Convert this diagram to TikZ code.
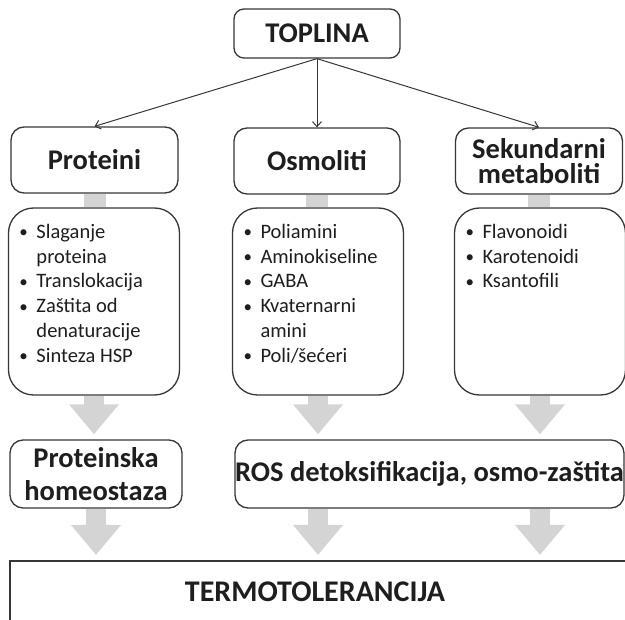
\documentclass[tikz,border=0pt]{standalone}
\usepackage{fontspec}
\setmainfont{Carlito}
\usepackage{xcolor}
\usetikzlibrary{arrows.meta,positioning,backgrounds}
\definecolor{OkvirSivi}{RGB}{55,55,55}
\definecolor{StrelicaSiva}{RGB}{212,212,212}
\definecolor{TekstCrni}{RGB}{30,30,30}
\newcommand\stavka[1]{\par\hangindent=28pt\hangafter=1\noindent
  \makebox[28pt][l]{\hspace{11pt}\raisebox{0.5pt}{\fontsize{17}{17}\selectfont•}}#1}
\newcommand\popis[1]{\parbox[c][187pt][t]{171pt}{\fontsize{20.5}{24.8}\selectfont
  \rightskip=0pt plus 1fil\vspace*{16pt}#1\par}}

\begin{document}
\begin{tikzpicture}[x=1pt, y=-1pt]
  \tikzset{okvir/.style={draw=OkvirSivi, line width=1.3pt, fill=white, rounded corners=13pt,
      align=center, text=TekstCrni, inner sep=0pt},
    naslov/.style={okvir, font=\fontsize{28.5}{25.5}\selectfont\bfseries},
    tanka/.style={draw=OkvirSivi, line width=1pt, -{Straight Barb[length=5pt, width=9pt]}},
    sivispoj/.style={draw=StrelicaSiva, line width=22pt},
    blokstrelica/.style={draw=StrelicaSiva, line width=20pt,
      -{Triangle[length=30pt, width=48pt]}, shorten >=5pt}}
  \clip (0,0) rectangle (625,620);

  % top level
  \node[naslov, minimum width=166pt, minimum height=49pt, rounded corners=10pt] (toplina) at (317,33.5) {TOPLINA};

  % three groups
  \node[naslov, minimum width=167pt, minimum height=66pt] (proteini) at (94.5,160) {Proteini};
  \node[naslov, minimum width=166pt, minimum height=66pt] (osmoliti) at (317,161) {Osmoliti};
  \node[naslov, minimum width=167pt, minimum height=66pt] (sekundarni) at (539,161) {Sekundarni\\metaboliti};

  % lists
  \node[okvir, rounded corners=25pt] (popisProteini) at (94,301.5) {\popis{%
    \stavka{Slaganje\newline proteina}
    \stavka{Translokacija}
    \stavka{Zaštita od\newline denaturacije}
    \stavka{Sinteza HSP}}};
  \node[okvir, rounded corners=25pt] (popisOsmoliti) at (318,301.5) {\popis{%
    \stavka{Poliamini}
    \stavka{Aminokiseline}
    \stavka{GABA}
    \stavka{Kvaternarni\newline amini}
    \stavka{Poli/šećeri}}};
  \node[okvir, rounded corners=25pt] (popisSekundarni) at (540,301.5) {\popis{%
    \stavka{Flavonoidi}
    \stavka{Karotenoidi}
    \stavka{Ksantofili}}};

  % effects
  \node[naslov, minimum width=172pt, minimum height=68pt, font=\fontsize{28.5}{33}\selectfont\bfseries] (homeostaza) at (96,474) {Proteinska\\homeostaza};
  \node[naslov, minimum width=389pt, minimum height=68pt] (ros) at (429.5,474) {\makebox[0pt]{ROS detoksifikacija, osmo-zaštita}};

  % result
  \node[draw=OkvirSivi, line width=2.2pt, minimum width=660pt, minimum height=120pt,
    anchor=north west, inner sep=0pt] (termo) at (9,560) {};
  \node[font=\fontsize{30}{32}\selectfont\bfseries, text=TekstCrni] (termoNatpis) at (315,592) {TERMOTOLERANCIJA};

  \draw[tanka] (toplina.south) -- (proteini.north);
  \draw[tanka] (toplina.south) -- (osmoliti.north);
  \draw[tanka] (toplina.south) -- (sekundarni.north);

  \begin{scope}[on background layer]
    \draw[sivispoj] (proteini.south) -- (proteini.south |- popisProteini.north);
    \draw[sivispoj] (osmoliti.south) -- (osmoliti.south |- popisOsmoliti.north);
    \draw[sivispoj] (sekundarni.south) -- (sekundarni.south |- popisSekundarni.north);
    \draw[blokstrelica] (popisProteini.south) -- (popisProteini.south |- homeostaza.north);
    \draw[blokstrelica] (popisOsmoliti.south) -- (popisOsmoliti.south |- ros.north);
    \draw[blokstrelica] (popisSekundarni.south) -- (popisSekundarni.south |- ros.north);
    \draw[blokstrelica] (homeostaza.south) -- (homeostaza.south |- termo.north);
    \draw[blokstrelica] (popisOsmoliti.south |- ros.south) -- (popisOsmoliti.south |- termo.north);
    \draw[blokstrelica] (popisSekundarni.south |- ros.south) -- (popisSekundarni.south |- termo.north);
  \end{scope}
\end{tikzpicture}
\end{document}
